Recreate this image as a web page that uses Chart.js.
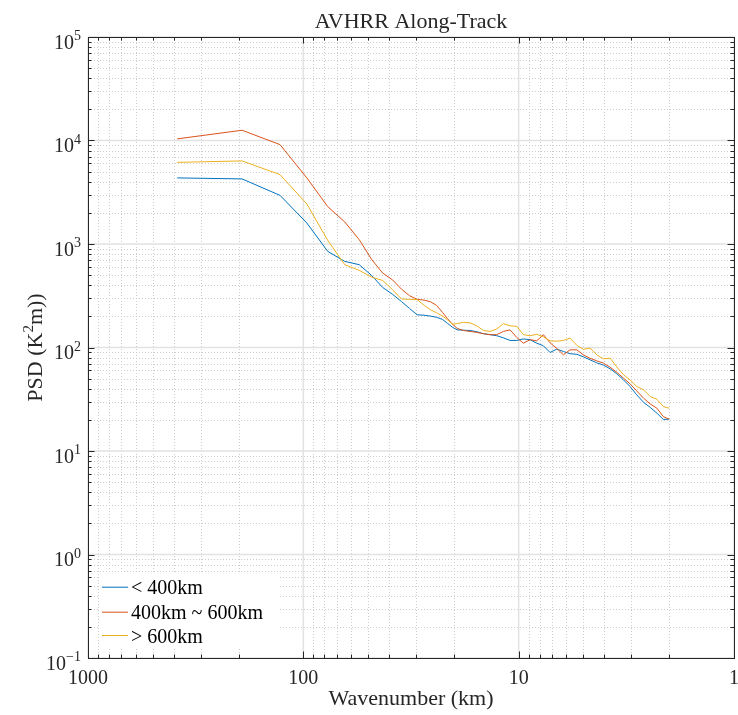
<!DOCTYPE html>
<html lang="en">
<head>
<meta charset="UTF-8" />
<title>AVHRR Along-Track</title>
<script src="https://cdn.jsdelivr.net/npm/chart.js"></script>
<style>
  html, body { margin: 0; padding: 0; background: #fff; }
  #wrap { width: 738px; height: 715px; }
</style>
</head>
<body>
<div id="wrap"><canvas id="chartPsd" width="738" height="715"></canvas></div>
<script>
// wavelength of each spectral point (km), shared by the three curves
const wavelengthKm = [385, 192.5, 128.3, 96.3, 77, 64.2, 55, 48.1, 42.8, 38.5,
  35, 32.1, 29.6, 27.5, 25.7, 24.1, 22.6, 21.4, 20.3, 19.3,
  18.06, 16.82, 15.65, 14.59, 13.58, 12.64, 11.78, 10.96, 10.2, 9.51,
  8.85, 8.24, 7.68, 7.15, 6.65, 6.2, 5.77, 5.37, 5.01, 4.66,
  4.34, 4.04, 3.76, 3.5, 3.26, 3.04, 2.83, 2.63, 2.45, 2.28, 2.13, 2.0];

const psdUnder400 = [4350, 4255, 2950, 1596, 848, 679, 631, 495, 380, 326,
  278, 238, 207, 205, 201, 196, 187, 171, 157, 148,
  147, 146, 142, 136, 133, 130, 124, 117, 117, 121,
  119, 110, 104, 89.5, 96.5, 91.5, 87, 86, 81.3, 76,
  71.1, 67.6, 62.2, 55.7, 48.7, 42, 34.9, 29.5, 26.4, 23.2, 20.2, 20.3];

const psd400to600 = [10370, 12560, 9120, 4350, 2295, 1633, 1101, 706, 524, 450,
  366, 316, 292, 287, 277, 256, 219, 190, 168, 153,
  146, 143, 140, 136, 133, 133, 143, 148, 125, 110,
  119, 116, 133, 111, 98, 85, 95, 95, 85, 78.6,
  74.4, 70.6, 64.4, 57.6, 50.6, 44.6, 38.1, 32.4, 28.5, 25.9, 21.5, 20.3];

const psdOver600 = [6150, 6350, 4680, 2436, 1083, 631, 556, 478, 444, 361,
  294, 292, 290, 256, 232, 217, 202, 185, 168, 170,
  175, 173, 162, 146, 143, 151, 170, 162, 160, 133,
  130, 134, 127, 116, 115, 117, 123, 105, 96, 98.7,
  85, 77.8, 79, 64.8, 54.5, 48.7, 42, 39, 33.6, 31.6, 26.9, 25.9];

const seriesNames = ['< 400km', '400km ~ 600km', '> 600km'];
const seriesColors = ['#0072BD', '#D95319', '#EDB120'];
const xTickLabels = ['1000', '100', '10', '1'];
const xTickValues = [1000, 100, 10, 1];
const yTickExponents = [-1, 0, 1, 2, 3, 4, 5];

const serif = '"Liberation Serif", "Times New Roman", serif';

function points(vals) {
  return vals.map((v, i) => ({ x: wavelengthKm[i], y: v }));
}

// 1..9 x 10^e for every decade between lo and hi
function logTicks(lo, hi) {
  const out = [];
  for (let e = lo; e < hi; e++) {
    for (let m = 1; m < 10; m++) out.push({ v: m * Math.pow(10, e), major: m === 1 });
  }
  out.push({ v: Math.pow(10, hi), major: true });
  return out;
}

function seg(ctx, x1, y1, x2, y2) {
  ctx.beginPath();
  ctx.moveTo(x1, y1);
  ctx.lineTo(x2, y2);
  ctx.stroke();
}

const matlabAxes = {
  id: 'matlabAxes',
  beforeDatasetsDraw(chart) {
    const { ctx, chartArea: a, scales: { x, y } } = chart;
    const xt = logTicks(0, 3), yt = logTicks(-1, 5);
    ctx.save();
    ctx.lineWidth = 1;
    // minor grid, dotted
    ctx.strokeStyle = '#cdcdcd';
    ctx.setLineDash([1, 2]);
    xt.filter(t => !t.major).forEach(t => {
      const px = Math.round(x.getPixelForValue(t.v)) + 0.5;
      seg(ctx, px, a.top, px, a.bottom);
    });
    yt.filter(t => !t.major).forEach(t => {
      const py = Math.round(y.getPixelForValue(t.v)) + 0.5;
      seg(ctx, a.left, py, a.right, py);
    });
    // major grid, solid
    ctx.setLineDash([]);
    ctx.strokeStyle = '#e2e2e2';
    ctx.lineWidth = 1.5;
    xt.filter(t => t.major).forEach(t => {
      const px = x.getPixelForValue(t.v);
      seg(ctx, px, a.top, px, a.bottom);
    });
    yt.filter(t => t.major).forEach(t => {
      const py = y.getPixelForValue(t.v);
      seg(ctx, a.left, py, a.right, py);
    });
    ctx.restore();
  },
  afterDatasetsDraw(chart) {
    const { ctx, chartArea: a, scales: { x, y } } = chart;
    const xt = logTicks(0, 3), yt = logTicks(-1, 5);
    ctx.save();

    // tick marks, inward on all four sides
    ctx.strokeStyle = '#262626';
    ctx.lineWidth = 1;
    xt.forEach(t => {
      const px = Math.round(x.getPixelForValue(t.v)) + 0.5;
      const len = t.major ? 6.5 : 3.5;
      seg(ctx, px, a.bottom, px, a.bottom - len);
      seg(ctx, px, a.top, px, a.top + len);
    });
    yt.forEach(t => {
      const py = Math.round(y.getPixelForValue(t.v)) + 0.5;
      const len = t.major ? 6.5 : 3.5;
      seg(ctx, a.left, py, a.left + len, py);
      seg(ctx, a.right, py, a.right - len, py);
    });

    // axes box
    ctx.strokeRect(Math.round(a.left) + 0.5, Math.round(a.top) + 0.5,
      Math.round(a.right - a.left), Math.round(a.bottom - a.top));

    ctx.fillStyle = '#262626';
    ctx.textBaseline = 'alphabetic';

    // x tick labels
    ctx.font = '20px ' + serif;
    ctx.textAlign = 'center';
    xTickValues.forEach((v, i) => {
      ctx.fillText(xTickLabels[i], x.getPixelForValue(v), 684);
    });

    // y tick labels: 10 with raised exponent
    yTickExponents.forEach(e => {
      const py = y.getPixelForValue(Math.pow(10, e));
      const exp = String(e).replace('-', '\u2212');
      ctx.font = '14px ' + serif;
      const ew = ctx.measureText(exp).width;
      ctx.textAlign = 'left';
      ctx.fillText(exp, 81 - ew, py + 3);
      ctx.font = '20px ' + serif;
      ctx.textAlign = 'right';
      ctx.fillText('10', 81 - ew, py + 11.5);
    });

    // title and x label
    const cx = (a.left + a.right) / 2;
    ctx.textAlign = 'center';
    ctx.font = '22px ' + serif;
    ctx.fillText('AVHRR Along-Track', cx, 27.5);
    ctx.fillText('Wavenumber (km)', cx, 705);

    // y label PSD (K^2m)) rotated
    ctx.save();
    ctx.translate(42, (a.top + a.bottom) / 2);
    ctx.rotate(-Math.PI / 2);
    const p1 = 'PSD (K', p2 = '2', p3 = 'm))';
    ctx.font = '22px ' + serif;
    const w1 = ctx.measureText(p1).width, w3 = ctx.measureText(p3).width;
    ctx.font = '15px ' + serif;
    const w2 = ctx.measureText(p2).width;
    let sx = -(w1 + w2 + w3) / 2;
    ctx.textAlign = 'left';
    ctx.font = '22px ' + serif;
    ctx.fillText(p1, sx, 0);
    ctx.font = '15px ' + serif;
    ctx.fillText(p2, sx + w1, -9);
    ctx.font = '22px ' + serif;
    ctx.fillText(p3, sx + w1 + w2, 0);
    ctx.restore();

    // legend, lower left, white box without border
    ctx.fillStyle = '#ffffff';
    ctx.fillRect(99, 574, 180, 73);
    const rows = [586.7, 611.7, 635];
    ctx.font = '20px ' + serif;
    ctx.textAlign = 'left';
    seriesNames.forEach((name, i) => {
      ctx.strokeStyle = seriesColors[i];
      ctx.lineWidth = 1;
      seg(ctx, 102, rows[i] + 0.5, 128, rows[i] + 0.5);
      ctx.fillStyle = '#000000';
      ctx.fillText(name, 131, rows[i] + 7.5);
    });

    ctx.restore();
  }
};

new Chart(document.getElementById('chartPsd'), {
  type: 'line',
  data: {
    datasets: [
      { label: seriesNames[0], data: points(psdUnder400), borderColor: seriesColors[0], order: 2 },
      { label: seriesNames[1], data: points(psd400to600), borderColor: seriesColors[1], order: 1 },
      { label: seriesNames[2], data: points(psdOver600), borderColor: seriesColors[2], order: 0 }
    ]
  },
  options: {
    responsive: false,
    animation: false,
    devicePixelRatio: 1,
    layout: { padding: { top: 37, right: 4, left: 0, bottom: 0 } },
    plugins: { legend: { display: false }, tooltip: { enabled: false } },
    elements: {
      point: { radius: 0 },
      line: { borderWidth: 1, tension: 0, fill: false }
    },
    scales: {
      x: {
        type: 'logarithmic', reverse: true, min: 1, max: 1000,
        ticks: { display: false }, grid: { display: false }, border: { display: false },
        afterFit: s => { s.height = 57; }
      },
      y: {
        type: 'logarithmic', min: 0.1, max: 1e5,
        ticks: { display: false }, grid: { display: false }, border: { display: false },
        afterFit: s => { s.width = 88; }
      }
    }
  },
  plugins: [matlabAxes]
});
</script>
</body>
</html>
